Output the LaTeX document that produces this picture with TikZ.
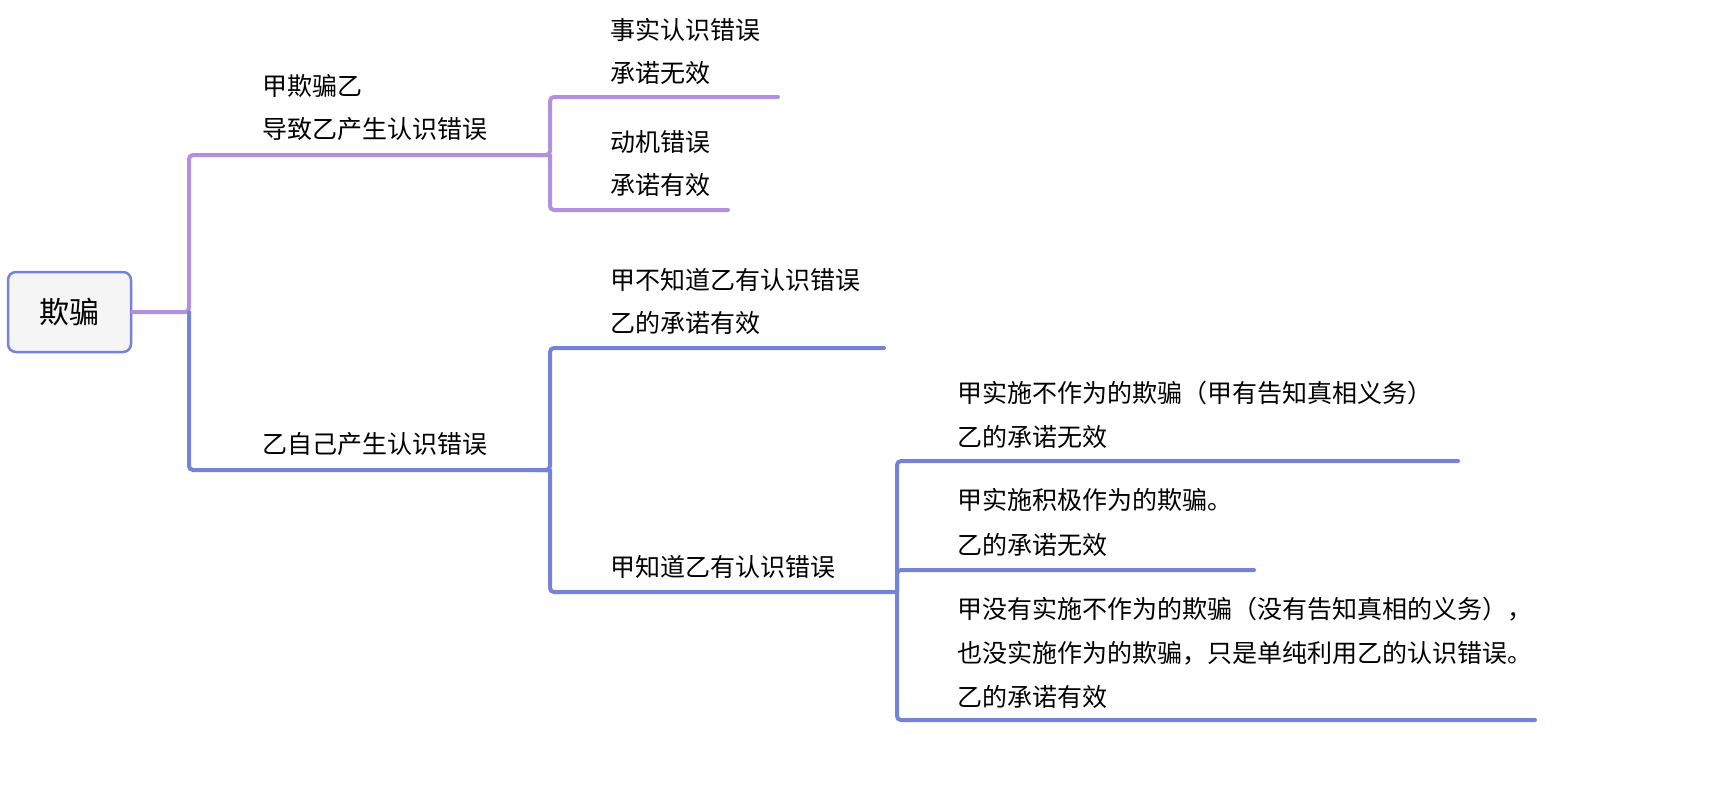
\documentclass[tikz,border=0pt]{standalone}
\usepackage{fontspec}
\setmainfont{Noto Sans CJK SC}
\definecolor{purp}{HTML}{B290E0}
\definecolor{blu}{HTML}{7483D8}
\begin{document}
\begin{tikzpicture}[x=1pt,y=-1pt,
  every node/.style={font=\fontsize{25}{25}\selectfont, anchor=west, inner sep=0pt},
  branch/.style={line width=4pt, rounded corners=4pt, line cap=round},
  rootbox/.style={draw=blu, line width=2.5pt, fill=gray!8, rounded corners=8pt, minimum width=123pt, minimum height=80pt, anchor=center, font=\fontsize{30}{30}\selectfont}]
  \useasboundingbox (0,0) rectangle (1710,792);
  \node[rootbox] (root) at (69.5,312) {欺骗};
  % first level
  \node (a1) at (262,86) {甲欺骗乙};
  \node (a2) at (262,129) {导致乙产生认识错误};
  \node (b1) at (262,444) {乙自己产生认识错误};
  \coordinate (fork) at (189,312);
  \coordinate (aend) at (548,155);
  \coordinate (bend) at (548,470);
  \draw[branch, purp] (root.east) -- (fork) |- (aend);
  \draw[branch, blu] (fork) |- (bend);
  % purple children
  \node (c1) at (610,30) {事实认识错误};
  \node (c2) at (610,73) {承诺无效};
  \node (d1) at (610,142) {动机错误};
  \node (d2) at (610,185) {承诺有效};
  \coordinate (cend) at (778,97);
  \coordinate (dend) at (728,210);
  \draw[branch, purp] (aend) -- (550,155) |- (cend);
  \draw[branch, purp] (550,155) |- (dend);
  % blue children
  \node (e1) at (610,280) {甲不知道乙有认识错误};
  \node (e2) at (610,323) {乙的承诺有效};
  \node (f1) at (610,567) {甲知道乙有认识错误};
  \coordinate (eend) at (884,348);
  \coordinate (fend) at (897,592);
  \draw[branch, blu] (bend) -- (550,470) |- (eend);
  \draw[branch, blu] (550,470) |- (fend);
  % third level
  \node (g1) at (957,393) {甲实施不作为的欺骗（甲有告知真相义务）};
  \node (g2) at (957,437) {乙的承诺无效};
  \node (h1) at (957,500) {甲实施积极作为的欺骗。};
  \node (h2) at (957,545) {乙的承诺无效};
  \node (i1) at (957,609) {甲没有实施不作为的欺骗（没有告知真相的义务），};
  \node (i2) at (957,653) {也没实施作为的欺骗，只是单纯利用乙的认识错误。};
  \node (i3) at (957,697) {乙的承诺有效};
  \coordinate (gend) at (1458,461);
  \coordinate (hend) at (1254,570);
  \coordinate (iend) at (1535,720);
  \draw[branch, blu] (fend) |- (gend);
  \draw[branch, blu] (fend) |- (hend);
  \draw[branch, blu] (fend) |- (iend);
\end{tikzpicture}
\end{document}
